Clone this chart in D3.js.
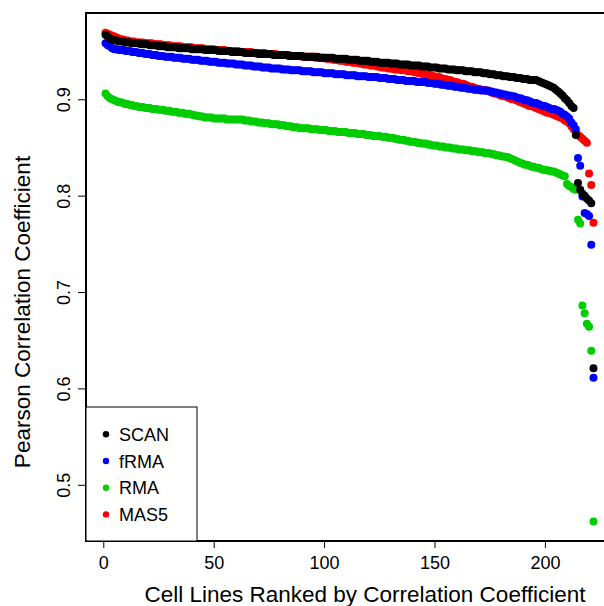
<!DOCTYPE html>
<html>
<head>
<meta charset="utf-8">
<script src="https://cdn.jsdelivr.net/npm/d3@7"></script>
<style>
  body { margin: 0; background: #ffffff; }
  text { font-family: "Liberation Sans", Arial, Helvetica, sans-serif; }
</style>
</head>
<body>
<div id="chart"></div>
<script>
// correlation of each cell line, sorted high to low within each method
var scan = [
  0.967,0.965,0.963,0.962,0.961,0.961,0.960,0.960,0.960,0.959,
  0.959,0.959,0.958,0.958,0.958,0.958,0.957,0.957,0.957,0.957,
  0.956,0.956,0.956,0.956,0.955,0.955,0.955,0.955,0.954,0.954,
  0.954,0.954,0.954,0.953,0.953,0.953,0.953,0.953,0.953,0.952,
  0.952,0.952,0.952,0.952,0.952,0.951,0.951,0.951,0.951,0.951,
  0.951,0.950,0.950,0.950,0.950,0.950,0.950,0.949,0.949,0.949,
  0.949,0.949,0.949,0.948,0.948,0.948,0.948,0.948,0.948,0.947,
  0.947,0.947,0.947,0.947,0.947,0.947,0.946,0.946,0.946,0.946,
  0.946,0.946,0.946,0.945,0.945,0.945,0.945,0.945,0.945,0.945,
  0.944,0.944,0.944,0.944,0.944,0.944,0.944,0.943,0.943,0.943,
  0.943,0.943,0.943,0.943,0.942,0.942,0.942,0.942,0.942,0.942,
  0.941,0.941,0.941,0.941,0.941,0.940,0.940,0.940,0.940,0.940,
  0.939,0.939,0.939,0.939,0.938,0.938,0.938,0.938,0.938,0.937,
  0.937,0.937,0.937,0.936,0.936,0.936,0.936,0.936,0.935,0.935,
  0.935,0.935,0.935,0.934,0.934,0.934,0.934,0.933,0.933,0.933,
  0.933,0.932,0.932,0.932,0.932,0.931,0.931,0.931,0.931,0.930,
  0.930,0.930,0.930,0.929,0.929,0.929,0.929,0.928,0.928,0.928,
  0.928,0.927,0.927,0.927,0.926,0.926,0.926,0.925,0.925,0.925,
  0.924,0.924,0.924,0.923,0.923,0.923,0.922,0.922,0.922,0.921,
  0.921,0.921,0.920,0.920,0.920,0.920,0.919,0.918,0.917,0.916,
  0.915,0.914,0.913,0.912,0.910,0.908,0.906,0.904,0.901,0.899,
  0.896,0.893,0.891,0.863,0.813,0.806,0.802,0.800,0.797,0.795,
  0.792,0.621
];

var frma = [
  0.958,0.956,0.955,0.953,0.952,0.952,0.951,0.951,0.951,0.950,
  0.950,0.950,0.949,0.949,0.949,0.948,0.948,0.948,0.947,0.947,
  0.947,0.946,0.946,0.946,0.945,0.945,0.945,0.944,0.944,0.944,
  0.944,0.943,0.943,0.943,0.943,0.942,0.942,0.942,0.942,0.941,
  0.941,0.941,0.941,0.940,0.940,0.940,0.940,0.939,0.939,0.939,
  0.939,0.938,0.938,0.938,0.938,0.937,0.937,0.937,0.937,0.936,
  0.936,0.936,0.936,0.935,0.935,0.935,0.935,0.934,0.934,0.934,
  0.934,0.933,0.933,0.933,0.933,0.932,0.932,0.932,0.932,0.932,
  0.931,0.931,0.931,0.931,0.930,0.930,0.930,0.930,0.930,0.929,
  0.929,0.929,0.929,0.929,0.928,0.928,0.928,0.928,0.928,0.927,
  0.927,0.927,0.927,0.927,0.926,0.926,0.926,0.926,0.926,0.925,
  0.925,0.925,0.925,0.925,0.924,0.924,0.924,0.924,0.924,0.923,
  0.923,0.923,0.923,0.923,0.922,0.922,0.922,0.922,0.921,0.921,
  0.921,0.921,0.920,0.920,0.920,0.920,0.919,0.919,0.919,0.919,
  0.919,0.918,0.918,0.918,0.918,0.918,0.917,0.917,0.917,0.916,
  0.916,0.916,0.915,0.915,0.915,0.914,0.914,0.914,0.913,0.913,
  0.913,0.912,0.912,0.912,0.911,0.911,0.911,0.910,0.910,0.910,
  0.909,0.909,0.909,0.909,0.908,0.908,0.907,0.907,0.906,0.906,
  0.905,0.905,0.904,0.904,0.903,0.903,0.902,0.901,0.901,0.900,
  0.899,0.899,0.898,0.897,0.896,0.896,0.895,0.894,0.893,0.893,
  0.892,0.891,0.890,0.890,0.889,0.888,0.887,0.885,0.884,0.882,
  0.880,0.876,0.873,0.869,0.839,0.831,0.799,0.782,0.781,0.779,
  0.749,0.611
];

var rma = [
  0.906,0.903,0.901,0.900,0.899,0.898,0.897,0.897,0.896,0.895,
  0.895,0.894,0.894,0.893,0.893,0.892,0.892,0.892,0.891,0.891,
  0.891,0.890,0.890,0.890,0.889,0.889,0.889,0.888,0.888,0.888,
  0.887,0.887,0.887,0.886,0.886,0.886,0.885,0.885,0.885,0.884,
  0.884,0.883,0.883,0.882,0.882,0.881,0.881,0.881,0.881,0.880,
  0.880,0.880,0.880,0.880,0.880,0.879,0.879,0.879,0.879,0.879,
  0.879,0.879,0.879,0.878,0.878,0.878,0.877,0.877,0.877,0.876,
  0.876,0.876,0.875,0.875,0.875,0.874,0.874,0.874,0.874,0.873,
  0.873,0.873,0.872,0.872,0.872,0.871,0.871,0.871,0.870,0.870,
  0.870,0.870,0.870,0.869,0.869,0.869,0.869,0.868,0.868,0.868,
  0.868,0.867,0.867,0.867,0.867,0.866,0.866,0.866,0.866,0.866,
  0.865,0.865,0.865,0.865,0.864,0.864,0.864,0.864,0.863,0.863,
  0.863,0.862,0.862,0.862,0.862,0.861,0.861,0.861,0.860,0.860,
  0.860,0.859,0.859,0.858,0.858,0.858,0.857,0.857,0.856,0.856,
  0.856,0.855,0.855,0.854,0.854,0.854,0.853,0.853,0.852,0.852,
  0.852,0.851,0.851,0.851,0.850,0.850,0.850,0.849,0.849,0.849,
  0.848,0.848,0.848,0.847,0.847,0.847,0.846,0.846,0.846,0.845,
  0.845,0.845,0.844,0.844,0.844,0.843,0.843,0.842,0.842,0.841,
  0.841,0.840,0.840,0.839,0.838,0.837,0.836,0.835,0.834,0.833,
  0.832,0.832,0.831,0.830,0.830,0.829,0.829,0.828,0.827,0.827,
  0.826,0.826,0.825,0.825,0.824,0.823,0.822,0.821,0.820,0.812,
  0.810,0.809,0.807,0.806,0.775,0.771,0.686,0.678,0.667,0.664,
  0.639,0.462
];

var mas5 = [
  0.969,0.968,0.967,0.966,0.965,0.964,0.963,0.962,0.962,0.961,
  0.961,0.960,0.960,0.960,0.959,0.959,0.959,0.959,0.958,0.958,
  0.958,0.958,0.957,0.957,0.957,0.957,0.956,0.956,0.956,0.956,
  0.955,0.955,0.955,0.955,0.955,0.954,0.954,0.954,0.954,0.954,
  0.953,0.953,0.953,0.953,0.953,0.952,0.952,0.952,0.952,0.952,
  0.951,0.951,0.951,0.951,0.951,0.950,0.950,0.950,0.950,0.950,
  0.950,0.949,0.949,0.949,0.949,0.949,0.949,0.948,0.948,0.948,
  0.948,0.948,0.948,0.947,0.947,0.947,0.947,0.947,0.946,0.946,
  0.946,0.946,0.946,0.946,0.945,0.945,0.945,0.945,0.945,0.944,
  0.944,0.944,0.944,0.944,0.944,0.943,0.943,0.943,0.943,0.943,
  0.942,0.942,0.942,0.941,0.941,0.941,0.940,0.940,0.940,0.939,
  0.939,0.939,0.938,0.938,0.938,0.937,0.937,0.936,0.936,0.936,
  0.935,0.935,0.935,0.934,0.934,0.933,0.933,0.933,0.932,0.932,
  0.932,0.931,0.931,0.931,0.930,0.930,0.930,0.929,0.929,0.929,
  0.928,0.928,0.927,0.927,0.926,0.926,0.925,0.925,0.924,0.924,
  0.923,0.923,0.922,0.921,0.921,0.920,0.920,0.919,0.918,0.918,
  0.917,0.916,0.916,0.915,0.914,0.913,0.913,0.912,0.911,0.911,
  0.910,0.910,0.909,0.909,0.908,0.907,0.906,0.906,0.905,0.904,
  0.903,0.903,0.902,0.901,0.900,0.900,0.899,0.898,0.897,0.896,
  0.895,0.894,0.893,0.893,0.892,0.891,0.890,0.889,0.888,0.887,
  0.886,0.886,0.885,0.884,0.883,0.882,0.881,0.880,0.878,0.877,
  0.875,0.872,0.869,0.866,0.863,0.861,0.859,0.857,0.855,0.823,
  0.811,0.772
];

var methods = ["SCAN", "fRMA", "RMA", "MAS5"];
var colors = ["#000000", "#0000ff", "#00cd00", "#ff0000"];
var xTicks = [0, 50, 100, 150, 200];
var yTicks = [0.5, 0.6, 0.7, 0.8, 0.9];

var width = 604;
var height = 606;
var margin = { top: 13, right: -9, bottom: 65, left: 86 };

var svg = d3.select("#chart")
    .append("svg")
    .attr("width", width)
    .attr("height", height)
    .style("background", "#ffffff");

// R style limits: data range stretched by 4% on each side
var x = d3.scaleLinear()
    .domain([-7.84, 230.84])
    .range([margin.left, width - margin.right]);

var y = d3.scaleLinear()
    .domain([0.4417, 0.9895])
    .range([height - margin.bottom, margin.top]);

var series = [
    { name: "MAS5", values: mas5, color: colors[3] },
    { name: "RMA", values: rma, color: colors[2] },
    { name: "fRMA", values: frma, color: colors[1] },
    { name: "SCAN", values: scan, color: colors[0] }
];

series.forEach(function(s) {
    svg.append("g")
        .selectAll("circle")
        .data(s.values)
        .enter()
        .append("circle")
        .attr("cx", function(d, i) { return x(i + 1); })
        .attr("cy", function(d) { return y(d); })
        .attr("r", 4)
        .attr("fill", s.color);
});

// axes
var xAxis = svg.append("g")
    .attr("transform", "translate(0," + (height - margin.bottom) + ")")
    .call(d3.axisBottom(x).tickValues(xTicks).tickSize(7).tickPadding(8).tickFormat(d3.format("d")));

var yAxis = svg.append("g")
    .attr("transform", "translate(" + margin.left + ",0)")
    .call(d3.axisLeft(y).tickValues(yTicks).tickSize(8).tickFormat(d3.format(".1f")));

xAxis.select("path.domain").remove();
yAxis.select("path.domain").remove();

xAxis.selectAll("text")
    .style("font-size", "18px")
    .attr("fill", "#000");

yAxis.selectAll(".tick text")
    .attr("x", null).attr("dy", null)
    .attr("text-anchor", "middle")
    .attr("transform", "translate(-16,0) rotate(-90)")
    .style("font-size", "18px")
    .attr("fill", "#000");

svg.selectAll(".tick line").attr("stroke", "#000");

// plot frame
svg.append("rect")
    .attr("x", margin.left)
    .attr("y", margin.top)
    .attr("width", x.range()[1] - margin.left)
    .attr("height", height - margin.bottom - margin.top)
    .attr("fill", "none")
    .attr("stroke", "#000")
    .attr("stroke-width", 2);

// legend
var legend = svg.append("g");
legend.append("rect")
    .attr("x", margin.left)
    .attr("y", 407)
    .attr("width", 111)
    .attr("height", height - margin.bottom - 407)
    .attr("fill", "#fff")
    .attr("stroke", "#000")
    .attr("stroke-width", 1);

var item = legend.selectAll(".item")
    .data(methods)
    .enter()
    .append("g")
    .attr("transform", function(d, i) { return "translate(106," + (434.3 + i * 26.7) + ")"; });

item.append("circle")
    .attr("r", 3.2)
    .attr("fill", function(d, i) { return colors[i]; });

item.append("text")
    .attr("x", 13)
    .attr("y", 6.5)
    .style("font-size", "18px")
    .attr("fill", "#000")
    .text(function(d) { return d; });

// titles
svg.append("text")
    .attr("x", 365)
    .attr("y", 602)
    .attr("text-anchor", "middle")
    .style("font-size", "22.5px")
    .attr("fill", "#000")
    .text("Cell Lines Ranked by Correlation Coefficient");

svg.append("text")
    .attr("transform", "translate(30," + 312 + ") rotate(-90)")
    .attr("text-anchor", "middle")
    .style("font-size", "22.5px")
    .attr("fill", "#000")
    .text("Pearson Correlation Coefficient");
</script>
</body>
</html>
